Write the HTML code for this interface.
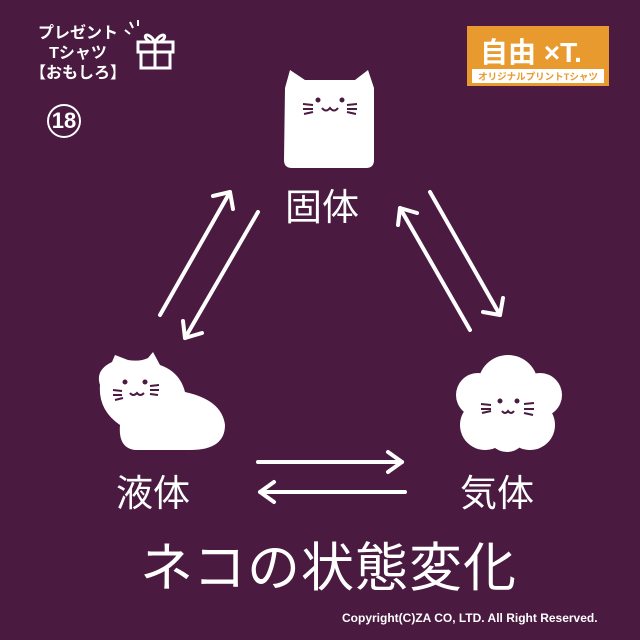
<!DOCTYPE html>
<html><head><meta charset="utf-8"><style>
body{margin:0;width:640px;height:640px;background:#4a1a40;overflow:hidden;font-family:"Liberation Sans","Noto Sans CJK JP",sans-serif;color:#fff}
.t{position:absolute;white-space:nowrap}
</style></head><body>
<div class="t" style="left:30px;top:24px;font-size:16px;font-weight:bold;line-height:20px;text-align:center;width:96px">プレゼント<br>Tシャツ<br>【おもしろ】</div>
<div class="t" style="left:47px;top:104px;width:30px;height:30px;border:2.5px solid #fff;border-radius:50%;font-size:22px;font-weight:bold;text-align:center;line-height:30px">18</div>
<svg style="position:absolute;left:0;top:0" width="640" height="640">
<g stroke="#fff" stroke-width="3" fill="none">
<rect x="138" y="42" width="35" height="10"/><rect x="141" y="52" width="29" height="16"/><line x1="155" y1="42" x2="155" y2="68"/>
<path d="M155 42 C148 30 140 36 150 42 M155 42 C162 30 170 36 160 42"/>
<path d="M125 30 l5 4 M130 22 l3 6 M138 20 l0 6" stroke-width="2"/>
</g>
<rect x="467" y="26" width="142" height="60" fill="#e89a2e"/>
<text x="480" y="62" font-size="28" font-weight="bold" fill="#fff" font-family="Liberation Sans,Noto Sans CJK JP,sans-serif">自由 ×T.</text>
<rect x="472" y="69" width="132" height="14" fill="#fff"/>
<text x="538" y="80" font-size="9.5" font-weight="bold" fill="#e89a2e" text-anchor="middle" font-family="Liberation Sans,Noto Sans CJK JP,sans-serif">オリジナルプリントTシャツ</text>
<path d="M285 88 L290 70 L305 80 L355 80 L368 70 L374 88 L374 160 Q374 168 366 168 L292 168 Q284 168 284 160 Z" fill="#fff"/>
<g stroke="#4a1a40" stroke-width="2" fill="none"><circle cx="318" cy="100" r="1.5" fill="#4a1a40"/><circle cx="342" cy="100" r="1.5" fill="#4a1a40"/>
<path d="M322 108 q4 5 8 0 q4 5 8 0"/><path d="M303 104 l10 1 M303 109 l10 0 M304 114 l9-2 M347 105 l10-1 M347 109 l10 0 M347 112 l9 2"/></g>
<path d="M100 385 Q95 370 112 362 L115 355 L128 360 Q140 362 148 358 L153 352 L160 365 Q180 372 185 392 Q222 400 225 425 Q225 450 190 450 L135 450 Q118 448 120 425 Q98 410 100 385 Z" fill="#fff"/>
<g stroke="#4a1a40" stroke-width="2" fill="none"><circle cx="125" cy="382" r="1.5" fill="#4a1a40"/><circle cx="145" cy="382" r="1.5" fill="#4a1a40"/>
<path d="M130 393 q3 4 7 0 q3 4 7 0"/><path d="M113 390 l9 1 M113 395 l9 0 M115 400 l8-2 M150 386 l9-1 M150 390 l9 0 M150 394 l8 1"/></g>
<g fill="#fff"><circle cx="508" cy="385" r="30"/><circle cx="478" cy="395" r="22"/><circle cx="540" cy="395" r="22"/><circle cx="485" cy="425" r="25"/><circle cx="530" cy="425" r="25"/><circle cx="507" cy="432" r="20"/></g>
<g stroke="#4a1a40" stroke-width="2" fill="none"><circle cx="500" cy="401" r="1.5" fill="#4a1a40"/><circle cx="517" cy="401" r="1.5" fill="#4a1a40"/>
<path d="M502 411 q3 4 6 0 q3 4 6 0"/><path d="M481 404 l10 1 M481 409 l10 0 M482 413 l9-2 M524 404 l10-1 M524 409 l10 0 M524 413 l9 2"/></g>
<g stroke="#fff" stroke-width="4" fill="none" stroke-linecap="round" stroke-linejoin="round">
<line x1="160" y1="315" x2="230" y2="192"/><path d="M213 196 L230 192 L233 209"/>
<line x1="258" y1="212" x2="185" y2="338"/><path d="M183 321 L185 338 L202 333"/>
<line x1="470" y1="330" x2="400" y2="208"/><path d="M398 225 L400 208 L417 213"/>
<line x1="430" y1="192" x2="500" y2="315"/><path d="M483 312 L500 315 L503 298"/>
<line x1="258" y1="462" x2="402" y2="462"/><path d="M388 452 L402 462 L388 472"/>
<line x1="405" y1="492" x2="260" y2="492"/><path d="M274 482 L260 492 L274 502"/>
</g>
</svg>
<div class="t" style="left:285px;top:186px;font-size:37px;line-height:44px">固体</div>
<div class="t" style="left:116px;top:472px;font-size:37px;line-height:44px">液体</div>
<div class="t" style="left:460px;top:472px;font-size:37px;line-height:44px">気体</div>
<div class="t" style="left:140px;top:538px;font-size:53px;line-height:62px;letter-spacing:1px">ネコの状態変化</div>
<div class="t" style="left:342px;top:611px;font-size:12px;font-weight:bold">Copyright(C)ZA CO, LTD. All Right Reserved.</div>
</body></html>
